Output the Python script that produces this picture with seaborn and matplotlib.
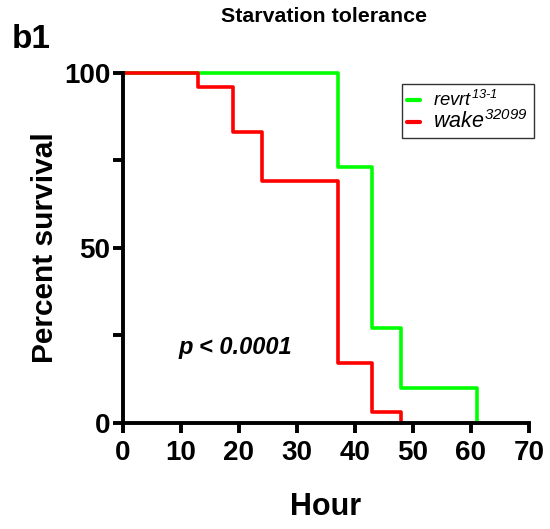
import matplotlib
matplotlib.use("Agg")
import matplotlib.pyplot as plt
import seaborn as sns
import pandas as pd

# data
revrt_hours = [0, 37, 43, 48, 61]
revrt_survival = [100, 73, 27, 10, 0]
wake_hours = [0, 13, 19, 24, 37, 43, 48]
wake_survival = [100, 96, 83, 69, 17, 3, 0]
group_labels = [r"$\mathit{revrt}^{13\text{-}1}$", r"$\mathit{wake}^{32099}$"]
x_ticks = [0, 10, 20, 30, 40, 50, 60, 70]
y_ticks = [0, 50, 100]
y_minor = [25, 75]

sns.set_theme(style="white")
plt.rcParams['font.family'] = ['Liberation Sans', 'DejaVu Sans']
plt.rcParams['mathtext.fontset'] = 'custom'
plt.rcParams['mathtext.it'] = 'Liberation Sans:italic'
plt.rcParams['mathtext.rm'] = 'Liberation Sans:italic'
for k in ['text.color', 'axes.labelcolor', 'xtick.color', 'ytick.color']:
    plt.rcParams[k] = 'black'

df = pd.concat([
    pd.DataFrame({"Hour": revrt_hours, "Survival": revrt_survival, "Group": group_labels[0]}),
    pd.DataFrame({"Hour": wake_hours, "Survival": wake_survival, "Group": group_labels[1]}),
], ignore_index=True)

fig = plt.figure(figsize=(5.5, 5.29), dpi=100)
ax = fig.add_axes([0.2236, 0.2004, 0.7382, 0.6616])

sns.lineplot(data=df, x="Hour", y="Survival", hue="Group", estimator=None, sort=False,
             drawstyle="steps-post", palette=["#00ff00", "#ff0000"], linewidth=2.6,
             ax=ax, legend=True)
for ln in ax.lines:
    ln.set_clip_on(False)

ax.set_xlim(0, 70)
ax.set_ylim(0, 100)
ax.set_xticks(x_ticks)
ax.set_yticks(y_ticks)
ax.set_yticks(y_minor, minor=True)
for s in ["top", "right"]:
    ax.spines[s].set_visible(False)
for s in ["left", "bottom"]:
    ax.spines[s].set_linewidth(2.8)
    ax.spines[s].set_color("black")
ax.tick_params(axis="both", which="major", direction="out", length=7, width=2.8,
               labelsize=20, color="black", bottom=True, left=True)
ax.tick_params(axis="x", which="major", pad=5)
ax.tick_params(axis="y", which="major", pad=2)
ax.tick_params(axis="y", which="minor", direction="out", length=7, width=2.8,
               color="black", left=True)
for lab in ax.get_xticklabels() + ax.get_yticklabels():
    lab.set_fontweight("bold")

ax.set_xlabel("Hour", fontsize=22, fontweight="bold", labelpad=19)
ax.set_ylabel("Percent survival", fontsize=21.5, fontweight="bold", labelpad=4)
ax.set_title("Starvation tolerance", fontsize=15.4, fontweight="bold", pad=37, x=0.495)

fig.text(0.022, 0.925, "b1", fontsize=24, fontweight="bold", ha="left", va="center")
ax.text(19.3, 21.7, "p < 0.0001", fontsize=17, fontweight="bold", style="italic",
        ha="center", va="center")

leg = ax.legend(loc="upper right", bbox_to_anchor=(1.012, 0.969), borderaxespad=0,
                frameon=True, fancybox=False, edgecolor="black", handlelength=0.8,
                handletextpad=0.9, borderpad=0.38, labelspacing=0.0)
leg.get_frame().set_linewidth(1.0)
texts = leg.get_texts()
texts[0].set_fontsize(13.3)
texts[1].set_fontsize(15.5)
for h in leg.get_lines():
    h.set_linewidth(3)

fig.savefig("out.png", dpi=100)
